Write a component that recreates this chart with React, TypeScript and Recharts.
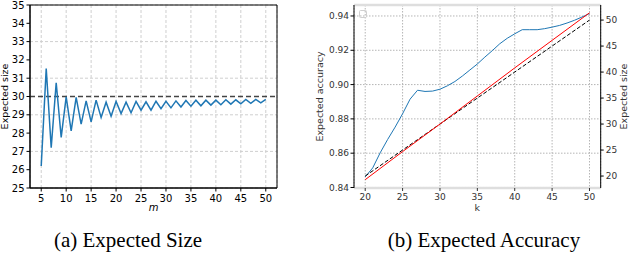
import React from 'react';
import {
  LineChart,
  Line,
  XAxis,
  YAxis,
  CartesianGrid,
  ReferenceLine,
  ReferenceArea,
} from 'recharts';

// (a) expected size vs m
const mValues = [
  5, 6, 7, 8, 9, 10, 11, 12, 13, 14, 15, 16, 17, 18, 19, 20, 21, 22, 23, 24, 25, 26, 27,
  28, 29, 30, 31, 32, 33, 34, 35, 36, 37, 38, 39, 40, 41, 42, 43, 44, 45, 46, 47, 48, 49, 50,
];
const expectedSize = [
  26.2, 31.53, 27.2, 30.75, 27.77, 29.98, 28.12, 29.95, 28.49, 29.76, 28.61, 29.8, 28.85,
  29.69, 28.92, 29.73, 29.07, 29.69, 29.11, 29.73, 29.25, 29.71, 29.25, 29.74, 29.34, 29.74,
  29.38, 29.76, 29.43, 29.78, 29.47, 29.8, 29.49, 29.8, 29.53, 29.8, 29.55, 29.82, 29.58,
  29.82, 29.6, 29.84, 29.63, 29.84, 29.65, 29.84,
];
const mTicks = [5, 10, 15, 20, 25, 30, 35, 40, 45, 50];
const sizeTicksA = [25, 26, 27, 28, 29, 30, 31, 32, 33, 34, 35];
const targetSize = 30;

// (b) expected accuracy vs k
const kValues = [
  20, 21, 22, 23, 24, 25, 26, 27, 28, 29, 30, 31, 32, 33, 34, 35, 36, 37, 38, 39, 40, 41, 42,
  43, 44, 45, 46, 47, 48, 49, 50,
];
const expectedAccuracy = [
  0.8462, 0.8514, 0.8602, 0.868, 0.8752, 0.883, 0.8915, 0.8967, 0.896, 0.8962, 0.8973,
  0.8993, 0.9018, 0.905, 0.9085, 0.912, 0.916, 0.9198, 0.9238, 0.927, 0.9296, 0.932, 0.932,
  0.932, 0.9326, 0.9335, 0.9345, 0.9359, 0.9375, 0.9394, 0.9414,
];
const kMarks = [20, 25, 30, 35, 40, 45, 50];
const sizeRed = [19.3, 24.7, 30.0, 35.4, 40.8, 46.1, 51.4];
const sizeBlack = [20, 25, 30, 35, 40, 45, 50];
const accTicks = [0.84, 0.86, 0.88, 0.9, 0.92, 0.94];
const sizeTicksB = [20, 25, 30, 35, 40, 45, 50];

const sizeData = mValues.map((m, i) => ({ m, size: expectedSize[i] }));
const accData = kValues.map((k, i) => ({ k, acc: expectedAccuracy[i] }));
const redData = kMarks.map((k, i) => ({ k, size: sizeRed[i] }));
const blackData = kMarks.map((k, i) => ({ k, size: sizeBlack[i] }));

const FONT = 'DejaVu Sans';

function SizeChart() {
  const tick = { fontSize: 10, fill: '#000', fontFamily: FONT };
  return (
    <LineChart
      width={300}
      height={215}
      data={sizeData}
      margin={{ top: 5, right: 23, left: 0, bottom: 0 }}
    >
      <CartesianGrid stroke="#cfcfcf" strokeDasharray="3 2" />
      <XAxis
        dataKey="m"
        type="number"
        domain={[2.75, 52.25]}
        ticks={mTicks}
        height={27}
        tick={tick}
        tickSize={3.5}
        tickMargin={3}
        stroke="#000"
        allowDataOverflow
        label={{
          value: 'm',
          position: 'insideBottom',
          offset: 4,
          style: { fontSize: 10, fontStyle: 'italic', fill: '#000', fontFamily: FONT },
        }}
      />
      <YAxis
        type="number"
        domain={[25, 35]}
        ticks={sizeTicksA}
        width={30}
        tick={tick}
        tickSize={3.5}
        tickMargin={2}
        stroke="#000"
        allowDataOverflow
        label={{
          value: 'Expected size',
          angle: -90,
          position: 'insideLeft',
          offset: 5,
          style: { textAnchor: 'middle', fontSize: 9.5, fill: '#000', fontFamily: FONT },
        }}
      />
      <ReferenceLine y={targetSize} stroke="#444" strokeWidth={1.4} strokeDasharray="5 3" />
      <ReferenceArea x1={2.75} x2={52.25} y1={25} y2={35} fill="none" stroke="#000" strokeWidth={1} />
      <Line
        type="linear"
        dataKey="size"
        stroke="#1f77b4"
        strokeWidth={1.5}
        dot={false}
        isAnimationActive={false}
      />
    </LineChart>
  );
}

function AccuracyChart() {
  const tick = { fontSize: 9, fill: '#333', fontFamily: FONT };
  const labelStyle = { textAnchor: 'middle', fontSize: 9.5, fill: '#333', fontFamily: FONT };
  return (
    <LineChart
      width={330}
      height={215}
      margin={{ top: 5, right: 0, left: 0, bottom: 0 }}
    >
      <CartesianGrid yAxisId="acc" stroke="#b5b5b5" strokeDasharray="1.5 1.5" />
      <XAxis
        dataKey="k"
        type="number"
        domain={[18.5, 51.5]}
        ticks={kMarks}
        height={27}
        tick={tick}
        tickSize={3}
        tickMargin={3}
        stroke="#ddd"
        axisLine={{ stroke: '#dedede', strokeWidth: 2.5 }}
        tickLine={{ stroke: '#333' }}
        allowDataOverflow
        label={{ value: 'k', position: 'insideBottom', offset: 4, style: labelStyle }}
      />
      <YAxis
        yAxisId="acc"
        type="number"
        domain={[0.8397, 0.9464]}
        ticks={accTicks}
        tickFormatter={(v: number) => v.toFixed(2)}
        width={54}
        tick={tick}
        tickSize={3.5}
        tickMargin={1.5}
        stroke="#000"
        allowDataOverflow
        label={{
          value: 'Expected accuracy',
          angle: -90,
          position: 'insideLeft',
          offset: 20,
          style: labelStyle,
        }}
      />
      <YAxis
        yAxisId="size"
        orientation="right"
        type="number"
        domain={[17.7, 52.9]}
        ticks={sizeTicksB}
        width={29.3}
        tick={tick}
        tickSize={3}
        tickMargin={2}
        stroke="#000"
        allowDataOverflow
        label={{
          value: 'Expected size',
          angle: -90,
          position: 'insideRight',
          offset: 6,
          style: labelStyle,
        }}
      />
      <ReferenceLine yAxisId="acc" y={0.9464} stroke="#dedede" strokeWidth={2.5} ifOverflow="visible" />
      <Line
        yAxisId="acc"
        data={accData}
        type="linear"
        dataKey="acc"
        stroke="#1f77b4"
        strokeWidth={1}
        dot={false}
        isAnimationActive={false}
      />
      <Line
        yAxisId="size"
        data={blackData}
        type="linear"
        dataKey="size"
        stroke="#000"
        strokeWidth={1}
        strokeDasharray="4 2"
        dot={false}
        isAnimationActive={false}
      />
      <Line
        yAxisId="size"
        data={redData}
        type="linear"
        dataKey="size"
        stroke="#ff0000"
        strokeWidth={1}
        dot={false}
        isAnimationActive={false}
      />
    </LineChart>
  );
}

export default function App() {
  const caption: React.CSSProperties = {
    position: 'absolute',
    top: 227,
    fontFamily: '"Liberation Serif", "Times New Roman", serif',
    fontSize: 21,
    lineHeight: '26px',
    color: '#000',
    whiteSpace: 'nowrap',
    transform: 'translateX(-50%)',
  };
  return (
    <div
      style={{
        position: 'absolute',
        left: 0,
        top: 0,
        width: 630,
        height: 256,
        background: '#fff',
        overflow: 'hidden',
        fontFamily: FONT,
      }}
    >
      <div style={{ position: 'absolute', left: 0, top: 0 }}>
        <SizeChart />
      </div>
      <div style={{ position: 'absolute', left: 300, top: 0 }}>
        <AccuracyChart />
      </div>
      {/* empty legend frame in the right panel */}
      <div
        style={{
          position: 'absolute',
          left: 359,
          top: 10,
          width: 8,
          height: 8,
          border: '1px solid #d0d0d0',
          borderRadius: 1.5,
          boxSizing: 'border-box',
        }}
      />
      <div style={{ ...caption, left: 128 }}>(a) Expected Size</div>
      <div style={{ ...caption, left: 484 }}>(b) Expected Accuracy</div>
    </div>
  );
}
